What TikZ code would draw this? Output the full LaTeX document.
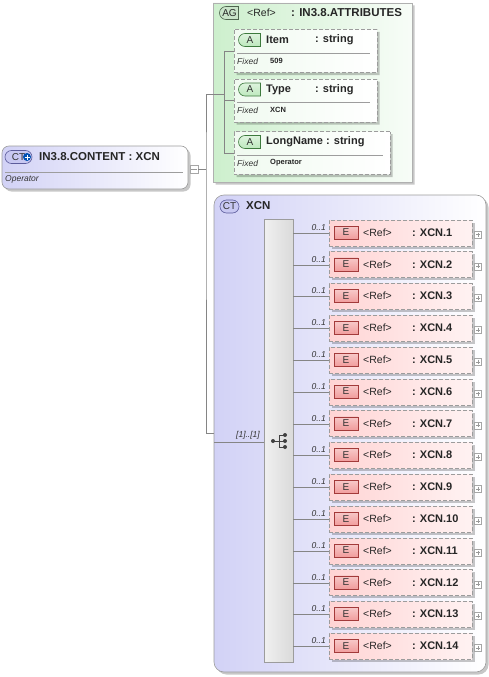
\documentclass[tikz,border=0pt]{standalone}
\usepackage{fontspec}
\setmainfont{Liberation Sans}
\usepackage{tikz}
\usetikzlibrary{positioning,calc,shapes.misc,shadows}
\definecolor{lne}{HTML}{858585}
\definecolor{bord}{HTML}{9C9C9C}
\definecolor{ctfill}{HTML}{D2D2F6}
\definecolor{agfill}{HTML}{CDEFCD}
\definecolor{ctagfill}{HTML}{C8C8F2}
\definecolor{ctagdraw}{HTML}{5C5C9C}
\definecolor{gtagfill}{HTML}{C9E4C9}
\definecolor{gtagdraw}{HTML}{4F664F}
\definecolor{atagfill}{HTML}{BDE8BD}
\definecolor{atagdraw}{HTML}{3D7A3D}
\definecolor{etagfill}{HTML}{F19C9C}
\definecolor{etagdraw}{HTML}{A33A3A}
\definecolor{elfill}{HTML}{FFD4D4}
\definecolor{seqfill}{HTML}{DADADA}
\tikzset{
  conn/.style={draw=lne,line width=0.6pt},
  sepl/.style={draw=lne!80,line width=0.5pt},
  shad/.style={drop shadow={shadow xshift=2.5pt,shadow yshift=-2.5pt,opacity=0.22,fill=black}},
  ctbox/.style={draw=bord,line width=0.6pt,rounded corners=7pt,left color=ctfill,right color=white,inner sep=0pt,shad},
  agbox/.style={chamfered rectangle,chamfered rectangle corners={north west,south west},chamfered rectangle xsep=9pt,chamfered rectangle ysep=9pt,draw=bord!80,line width=0.6pt,left color=agfill,right color=agfill!15,inner sep=0pt,shad},
  atbox/.style={chamfered rectangle,chamfered rectangle corners={north west,south west},chamfered rectangle xsep=7pt,chamfered rectangle ysep=7pt,draw=bord,line width=0.7pt,dash pattern=on 4pt off 2pt,left color=agfill!30,right color=white,inner sep=0pt,shad},
  elbox/.style={draw=bord,line width=0.7pt,dash pattern=on 4pt off 2pt,left color=elfill,right color=elfill!30,minimum width=143pt,minimum height=26pt,inner sep=0pt,shad},
  seqbar/.style={draw=bord,line width=0.6pt,left color=seqfill!40,right color=seqfill,inner sep=0pt},
  ctag/.style={rounded rectangle,draw=ctagdraw,fill=ctagfill,line width=0.6pt,minimum height=13pt,inner sep=1pt,font=\fontsize{10}{10}\selectfont,text=black!80},
  gtag/.style={rounded rectangle,rounded rectangle east arc=none,draw=gtagdraw,fill=gtagfill,line width=0.6pt,minimum width=21pt,minimum height=13pt,inner sep=1pt,font=\fontsize{10}{10}\selectfont,text=black!85},
  atag/.style={rounded rectangle,rounded rectangle east arc=none,draw=atagdraw,top color=atagfill!50,bottom color=atagfill,line width=0.6pt,minimum width=24pt,minimum height=13pt,inner sep=1pt,font=\fontsize{10}{10}\selectfont,text=black!80},
  etag/.style={draw=etagdraw,top color=etagfill!55,bottom color=etagfill,line width=0.6pt,minimum width=24pt,minimum height=13pt,inner sep=1pt,font=\fontsize{10}{10}\selectfont,text=black!80},
  ctplus/.style={circle,fill=blue!55!cyan!70!black,minimum size=8pt,inner sep=0pt,path picture={\draw[white,line width=1pt] ([xshift=1.5pt]path picture bounding box.west) -- ([xshift=-1.5pt]path picture bounding box.east) ([yshift=-1.5pt]path picture bounding box.north) -- ([yshift=1.5pt]path picture bounding box.south);}},
  plusb/.style={draw=gray!70,fill=white,minimum size=7pt,inner sep=0pt,line width=0.4pt,path picture={\draw[gray!80,line width=0.4pt] ([xshift=1.5pt]path picture bounding box.west) -- ([xshift=-1.5pt]path picture bounding box.east) ([yshift=-1.5pt]path picture bounding box.north) -- ([yshift=1.5pt]path picture bounding box.south);}},
  minusb/.style={draw=gray!70,fill=white,minimum size=8pt,inner sep=0pt,line width=0.4pt,path picture={\draw[gray!80,line width=0.4pt] (path picture bounding box.west) -- ([xshift=-1.5pt]path picture bounding box.east);}},
  hdr/.style={font=\fontsize{11.5}{13}\selectfont\bfseries,inner sep=0pt,text=black!85},
  aname/.style={font=\fontsize{11}{13}\selectfont\bfseries,inner sep=0pt,text=black!85},
  ref/.style={font=\fontsize{10.5}{12}\selectfont,inner sep=0pt,text=black!85},
  note/.style={font=\fontsize{8.5}{10}\selectfont\itshape,inner sep=0pt,text=black!80},
  fixv/.style={font=\fontsize{7.5}{9}\selectfont\bfseries,inner sep=0pt,text=black!85},
  mult/.style={font=\fontsize{8.5}{10}\selectfont\itshape,inner sep=1pt,text=black!80},
}
\begin{document}
\begin{tikzpicture}[x=1pt,y=-1pt]
\useasboundingbox (0,0) rectangle (489,677);

% root element
\node[ctbox,minimum width=186pt,minimum height=43pt] (root) at (95,167.5) {};
\node[ctag,minimum width=29pt] (rtag) at (18.5,157) {CT\hspace{8pt}};
\node[ctplus] (rplus) at (27,157) {};
\node[hdr,anchor=west] (rname) at (39,157) {IN3.8.CONTENT : XCN};
\draw[sepl] (5,172) -- (183,172);
\node[note,anchor=west] (rdoc) at (5,179.5) {Operator};
\node[minusb] (rsq) at (194,169) {};

% attribute group
\node[agbox,minimum width=199pt,minimum height=179pt] (ag) at (312.5,92.5) {};
\node[gtag] (agtag) at (229.5,13) {AG};
\node[ref,anchor=west] (agref) at (247,13) {<Ref>};
\node[hdr,anchor=west] (agname) at (291,13) {: IN3.8.ATTRIBUTES};
\foreach \nm/\fx/\yc/\w/\sx [count=\k] in {Item/509/51/143/315,Type/XCN/100.5/143/315,LongName/Operator/153/156/326}{
  \node[atbox,minimum width=\w pt,minimum height=43pt] (a\k) at ({234+\w/2},\yc) {};
  \node[atag] (at\k) at (250,\yc-11) {A};
  \node[aname,anchor=west] (an\k) at (266,\yc-11) {\nm};
  \node[aname,anchor=west] (as\k) at (\sx,\yc-11) {: string};
  \draw[sepl] (237,\yc+2) -- ({234+\w-7},\yc+2);
  \node[note,anchor=west] (af\k) at (237,\yc+10) {Fixed};
  \node[fixv,anchor=west] (av\k) at (270,\yc+9.5) {\fx};
}

% complex type
\node[ctbox,rounded corners=10pt,minimum width=272pt,minimum height=477pt] (ct) at (350,433.5) {};
\node[ctag,minimum width=21pt] (cttag) at (229.5,206.5) {CT};
\node[hdr,anchor=west] (ctname) at (246,206) {XCN};
\node[seqbar,minimum width=29pt,minimum height=443pt] (bar) at (278.5,440.5) {};

% sequence symbol
\coordinate (sq) at (279,441);
\draw[black!75,line width=0.8pt] ($(sq)+(-6,0)$) -- (sq) ($(sq)+(0,-6)$) -- ($(sq)+(0,6)$)
  ($(sq)+(0,-6)$) -- ++(6,0) (sq) -- ++(6,0) ($(sq)+(0,6)$) -- ++(6,0);
\fill[black!75] ($(sq)+(-6,0)$) circle (2pt);
\foreach \d in {-6,0,6} \fill[black!75] ($(sq)+(6,\d)$) circle (2pt);

% elements
\foreach \i in {1,...,14}{
  \pgfmathsetmacro\yc{232.5+(\i-1)*31.8}
  \node[elbox] (e\i) at (400.5,\yc+0.5) {};
  \node[etag] (et\i) at (346,\yc) {E};
  \node[ref,anchor=west] (er\i) at (363,\yc) {<Ref>};
  \node[aname,anchor=west] (en\i) at (412,\yc) {: XCN.\i};
  \node[plusb] (ep\i) at (478,\yc+2) {};
  \draw[conn] (e\i.west -| bar.east) -- (e\i.west);
  \node[mult,anchor=south east] (em\i) at (327,\yc-1) {0..1};
}

% connectors
\coordinate (agin) at (224,94);
\coordinate (jn) at (206,169);
\coordinate (ctin) at (214,433);
\coordinate (seqin) at (214,442);
\draw[conn] (rsq.east) -- (jn);
\draw[conn] (agin) -| (jn) |- (ctin);
\draw[conn] (a1.west -| agin) -- (a3.west -| agin);
\foreach \k in {1,2,3} \draw[conn] (a\k.west -| agin) -- (a\k.west);
\draw[conn] (seqin) -- (seqin -| bar.west);
\node[mult,anchor=south east] (card) at (261,440) {[1]..[1]};
\end{tikzpicture}
\end{document}
